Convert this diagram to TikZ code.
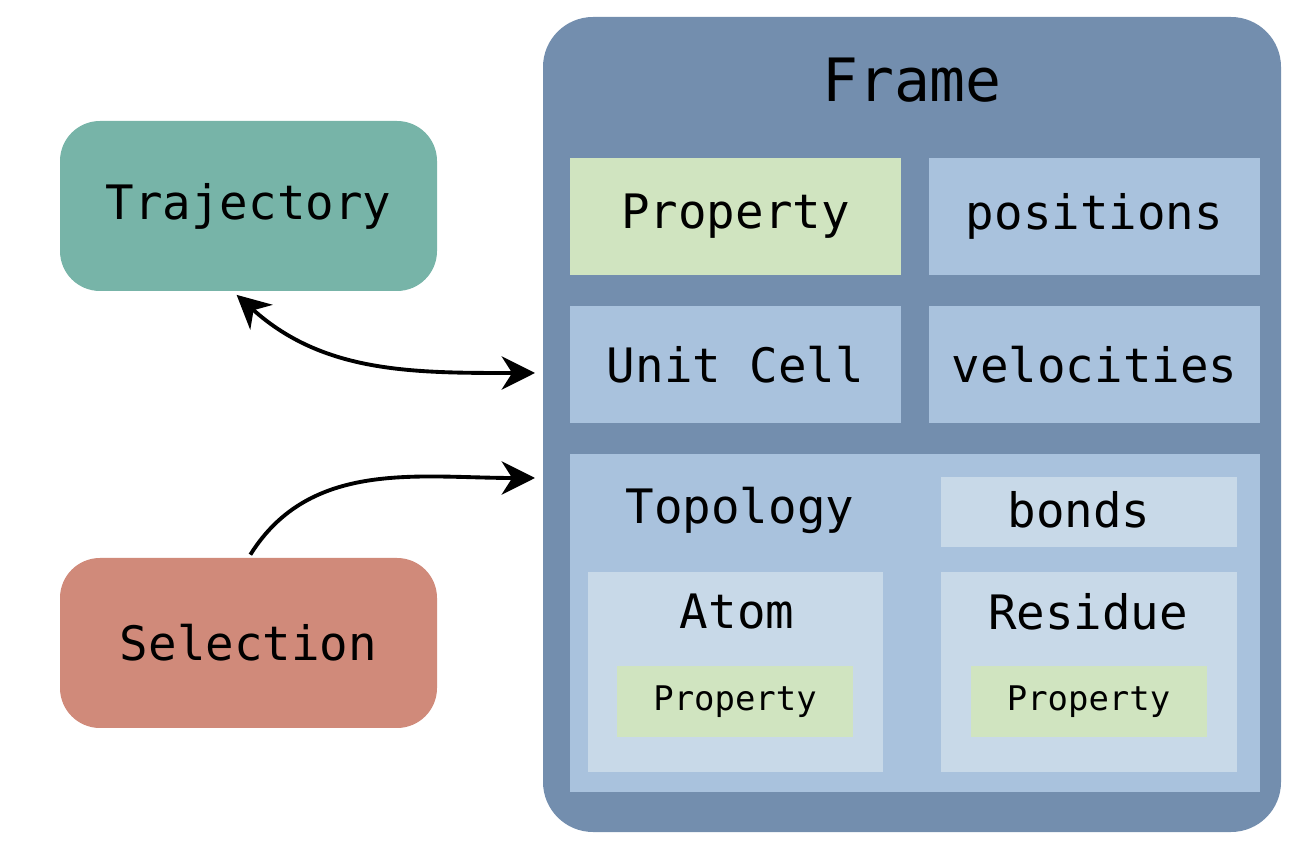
\documentclass[tikz,border=0pt]{standalone}
\usepackage{fontspec}
\usepackage{tikz}
\usetikzlibrary{arrows.meta, positioning}
\newfontfamily\boxfont{DejaVu Sans Mono}
\definecolor{trajcol}{HTML}{77B4A8}
\definecolor{selcol}{HTML}{D08A7A}
\definecolor{framecol}{HTML}{738EAE}
\definecolor{partcol}{HTML}{A9C2DD}
\definecolor{palecol}{HTML}{C8D9E8}
\definecolor{propcol}{HTML}{D0E4C0}
\tikzset{%
	outer box/.style={
		rounded corners=0.8cm,
		inner sep=0pt,
		minimum width=7.54cm,
		minimum height=3.4cm,
		font=\boxfont\fontsize{27}{30}\selectfont
	},
	part box/.style={
		fill=partcol,
		inner sep=0pt,
		minimum width=6.62cm,
		minimum height=2.34cm,
		font=\boxfont\fontsize{27}{30}\selectfont
	},
	inner box/.style={
		fill=palecol,
		inner sep=0pt,
		minimum width=5.92cm
	},
	small prop/.style={
		fill=propcol,
		inner sep=0pt,
		minimum width=4.72cm,
		minimum height=1.42cm,
		font=\boxfont\fontsize{19.3}{22}\selectfont
	},
	label text/.style={
		inner sep=0pt,
		font=\boxfont\fontsize{27}{30}\selectfont
	},
	link/.style={
		>={Stealth[length=19pt, width=19pt, inset=6pt]},
		line width=2.2pt
	},
}
\begin{document}
\begin{tikzpicture}
			\useasboundingbox (0,0) rectangle (25.98,17);
			
			% left side
			\node[outer box, fill=trajcol] (traj) at (4.97,12.88) {Trajectory};
			\node[outer box, fill=selcol] (sel) at (4.97,4.14) {Selection};
			
			% the frame and its parts
			\node[fill=framecol, rounded corners=1cm, minimum width=14.76cm, minimum height=16.3cm] (frame) at (18.24,8.51) {};
			\node[label text, font=\boxfont\fontsize{34}{38}\selectfont] (frametitle) at (18.24,15.4) {Frame};
			
			\node[part box, fill=propcol] (prop) at (14.71,12.67) {Property};
			\node[part box] (pos) at (21.89,12.67) {positions};
			\node[part box] (cell) at (14.71,9.71) {Unit Cell};
			\node[part box] (vel) at (21.89,9.71) {velocities};
			
			\node[fill=partcol, minimum width=13.8cm, minimum height=6.76cm] (topo) at (18.3,4.54) {};
			\node[label text] (topotitle) at (14.8,6.8) {Topology};
			\node[inner box, minimum height=1.4cm] (bonds) at (21.78,6.76) {};
			\node[label text] (bondstitle) at (21.58,6.8) {bonds};
			
			\node[inner box, minimum width=5.9cm, minimum height=4cm] (atom) at (14.71,3.56) {};
			\node[inner box, minimum height=4cm] (res) at (21.78,3.56) {};
			\node[label text] (atomtitle) at (14.74,4.76) {Atom};
			\node[label text] (restitle) at (21.76,4.76) {Residue};
			\node[small prop] (atomprop) at (14.7,2.97) {Property};
			\node[small prop] (resprop) at (21.77,2.97) {Property};
			
			% links
			\coordinate (linkA) at (10.7,9.54);
			\coordinate (linkB) at (10.7,7.44);
			\draw[link, <->, shorten <=3pt] ([xshift=-9pt]traj.south) to[out=-42, in=180] (linkA);
			\draw[link, ->, shorten <=2pt] (sel.north) to[out=58, in=180] (linkB);
			
		\end{tikzpicture}
\end{document}
